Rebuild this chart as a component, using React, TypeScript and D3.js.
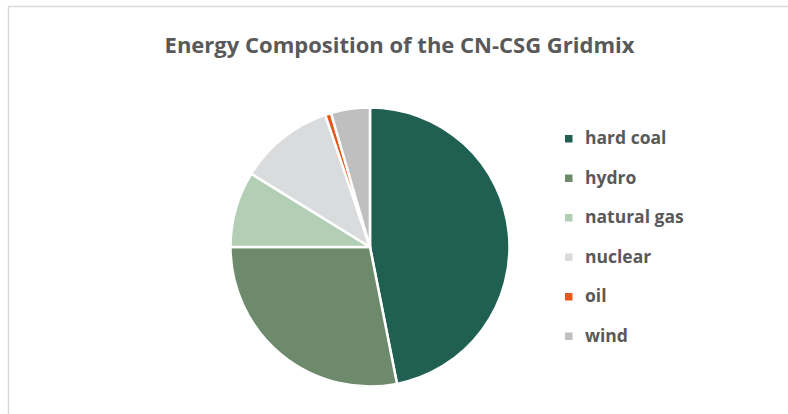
import React from "react";
import * as d3 from "d3";

const categories = ["hard coal", "hydro", "natural gas", "nuclear", "oil", "wind"];
const values = [46.9, 28.1, 8.8, 11.0, 0.7, 4.5];
const colors = ["#1f6053", "#6e8a6c", "#b2cfb6", "#dadbdd", "#e55a1a", "#bfbfbf"];
const title = "Energy Composition of the CN-CSG Gridmix";

export default function App() {
  const W = 788, H = 414;
  const cx = 370, cy = 247, r = 139.5;
  const data = categories.map((c, i) => ({ c, v: values[i], col: colors[i] }));
  const pie = d3.pie<any>().value((d) => d.v).sort(null);
  const arc = d3.arc<any>().innerRadius(0).outerRadius(r);
  const arcs = pie(data);
  const ly = d3.scalePoint<string>().domain(categories).range([138.5, 336]);
  const font = "'Open Sans', 'DejaVu Sans', sans-serif";
  return (
    <svg width={W} height={H} style={{ position: "absolute", left: 0, top: 0 }}>
      <rect x={0} y={0} width={W} height={H} fill="#fff" />
      <line x1={8} y1={6.5} x2={W} y2={6.5} stroke="#d9d9d9" strokeWidth={1.5} />
      <line x1={8.5} y1={6} x2={8.5} y2={H} stroke="#d9d9d9" strokeWidth={1.5} />
      <text x={399.5} y={52.5} textAnchor="middle" fontFamily={font} fontWeight={700} fontSize={22} fill="#595959">
        {title}
      </text>
      <g transform={`translate(${cx},${cy})`}>
        {arcs.map((a, i) => (
          <path key={i} d={arc(a) as string} fill={a.data.col} stroke="#fff" strokeWidth={2.5} strokeLinejoin="round" />
        ))}
      </g>
      {categories.map((c, i) => (
        <g key={c} transform={`translate(0,${ly(c)})`}>
          <rect x={565} y={-3.5} width={7.5} height={7.5} fill={colors[i]} />
          <text x={585} y={5.5} fontFamily={font} fontWeight={700} fontSize={17.5} fill="#595959">
            {c}
          </text>
        </g>
      ))}
    </svg>
  );
}
